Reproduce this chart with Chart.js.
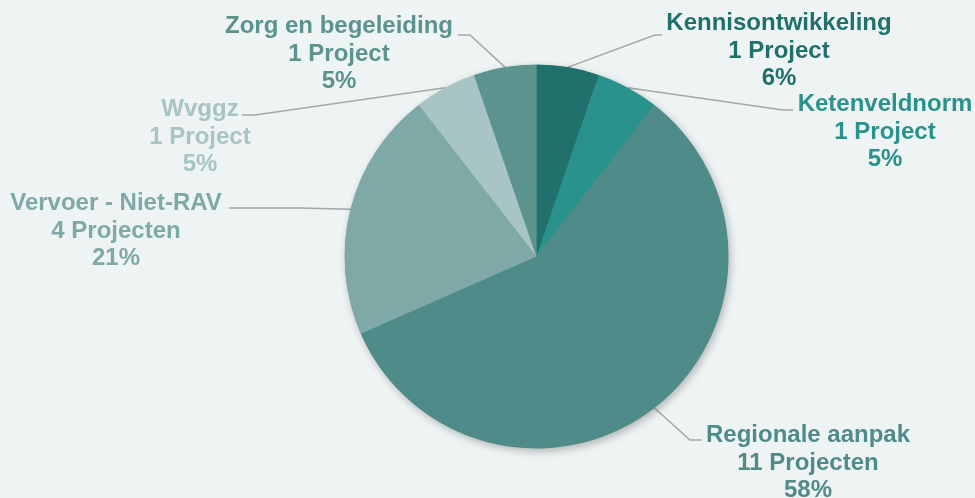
<!DOCTYPE html>
<html>
<head>
<meta charset="utf-8">
<script src="https://cdn.jsdelivr.net/npm/chart.js@4.4.1/dist/chart.umd.min.js"></script>
<style>
  html, body { margin: 0; padding: 0; background: #eef3f3; }
  #projectsChart { display: block; }
</style>
</head>
<body>
<canvas id="projectsChart" width="975" height="498"></canvas>
<script>
// projects per theme (slices start at 12 o'clock, clockwise)
const categories = ['Kennisontwikkeling', 'Ketenveldnorm', 'Regionale aanpak', 'Vervoer - Niet-RAV', 'Wvggz', 'Zorg en begeleiding'];
const projectCounts = [1, 1, 11, 4, 1, 1];
const percentLabels = ['6%', '5%', '58%', '21%', '5%', '5%']; // as printed in the picture
const sliceColors = ['#20716b', '#2a928c', '#4f8c89', '#7ea9a7', '#a8c4c4', '#5b938e'];

// where each label sits: text centre x, first baseline y, elbow of leader line, end of leader line
const labelLayout = [
  { x: 779, y: 30,  elbow: [655, 35],  end: [662, 35] },
  { x: 885, y: 111, elbow: [783, 110], end: [793, 110] },
  { x: 808, y: 442, elbow: [690, 440], end: [702, 440] },
  { x: 116, y: 210, elbow: [300, 208], end: [229, 208] },
  { x: 200, y: 116, elbow: [255, 115], end: [242, 115] },
  { x: 339, y: 33,  elbow: [470, 35],  end: [458, 35] }
];
const lineHeight = 27.7;

function projectText(n) {
  return n + (n === 1 ? ' Project' : ' Projecten');
}

// leader lines + soft shadow under the pie
const pieDecor = {
  id: 'pieDecor',
  beforeDatasetsDraw(chart) {
    const ctx = chart.ctx;
    const arcs = chart.getDatasetMeta(0).data;
    ctx.save();
    ctx.strokeStyle = '#a6a6a6';
    ctx.lineWidth = 1.5;
    arcs.forEach((arc, i) => {
      const mid = (arc.startAngle + arc.endAngle) / 2;
      const px = arc.x + Math.cos(mid) * arc.outerRadius;
      const py = arc.y + Math.sin(mid) * arc.outerRadius;
      const lay = labelLayout[i];
      ctx.beginPath();
      ctx.moveTo(px, py);
      ctx.lineTo(lay.elbow[0], lay.elbow[1]);
      ctx.lineTo(lay.end[0], lay.end[1]);
      ctx.stroke();
    });
    // shadow circle
    const a = arcs[0];
    ctx.shadowColor = 'rgba(0,0,0,0.28)';
    ctx.shadowBlur = 9;
    ctx.shadowOffsetX = 2;
    ctx.shadowOffsetY = 3;
    ctx.fillStyle = '#4f8c89';
    ctx.beginPath();
    ctx.arc(a.x, a.y, a.outerRadius - 0.5, 0, Math.PI * 2);
    ctx.fill();
    ctx.restore();
  },
  afterDraw(chart) {
    const ctx = chart.ctx;
    ctx.save();
    ctx.font = 'bold 24px "Liberation Sans", Arial, sans-serif';
    ctx.textAlign = 'center';
    ctx.textBaseline = 'alphabetic';
    categories.forEach((cat, i) => {
      const lay = labelLayout[i];
      ctx.fillStyle = sliceColors[i];
      ctx.fillText(cat, lay.x, lay.y);
      ctx.fillText(projectText(projectCounts[i]), lay.x, lay.y + lineHeight);
      ctx.fillText(percentLabels[i], lay.x, lay.y + lineHeight * 2);
    });
    ctx.restore();
  }
};

new Chart(document.getElementById('projectsChart'), {
  type: 'pie',
  data: {
    labels: categories,
    datasets: [{
      data: projectCounts,
      backgroundColor: sliceColors,
      borderWidth: 0
    }]
  },
  options: {
    responsive: false,
    animation: false,
    radius: 192,
    layout: { padding: { left: 98, top: 15 } },
    plugins: {
      legend: { display: false },
      tooltip: { enabled: false }
    }
  },
  plugins: [pieDecor]
});
</script>
</body>
</html>
